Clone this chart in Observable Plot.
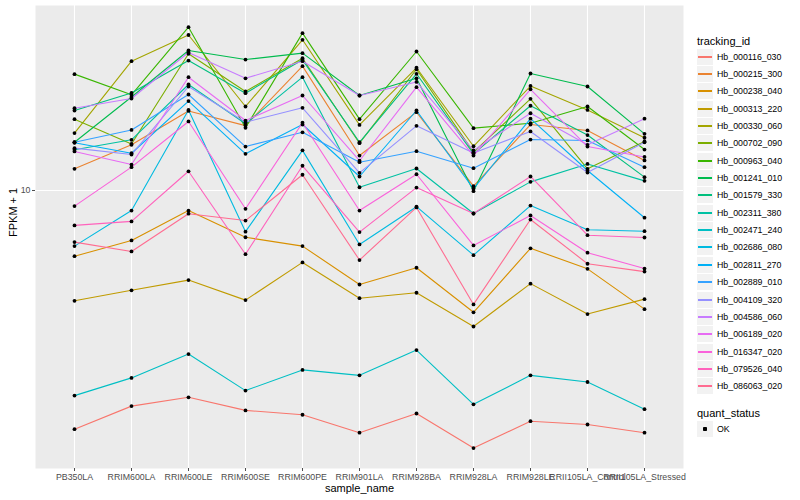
<!DOCTYPE html>
<html><head><meta charset="utf-8">
<script src="https://cdn.jsdelivr.net/npm/d3@7"></script>
<script src="https://cdn.jsdelivr.net/npm/@observablehq/plot@0.6"></script>
<style>
body{margin:0;background:#fff;font-family:"Liberation Sans",Arial,sans-serif;}
#wrap{position:relative;width:800px;height:500px;overflow:hidden;}
#chart{position:absolute;left:0;top:0;}
#legend{position:absolute;left:690px;top:0;width:110px;height:500px;}
.ltitle{position:absolute;left:7px;font-size:11px;line-height:14px;color:#000;white-space:nowrap;}
.item{position:absolute;left:7px;height:16px;width:105px;}
.key{position:absolute;left:0;top:0;width:16px;height:16px;background:#F2F2F2;}
.key .ln{position:absolute;left:1px;width:14px;top:7px;height:1.5px;}
.key .pt{position:absolute;left:6px;top:6px;width:4px;height:4px;background:#000;border-radius:0.8px;}
.lab{position:absolute;left:20px;top:0;font-size:8.8px;line-height:16px;color:#000;white-space:nowrap;}
</style></head><body>
<div id="wrap"><div id="chart"></div><div id="legend"></div></div>
<script>
const sampleNames = ["PB350LA","RRIM600LA","RRIM600LE","RRIM600SE","RRIM600PE","RRIM901LA","RRIM928BA","RRIM928LA","RRIM928LE","RRII105LA_Control","RRII105LA_Stressed"];
const trackingIds = ["Hb_000116_030","Hb_000215_300","Hb_000238_040","Hb_000313_220","Hb_000330_060","Hb_000702_090","Hb_000963_040","Hb_001241_010","Hb_001579_330","Hb_002311_380","Hb_002471_240","Hb_002686_080","Hb_002811_270","Hb_002889_010","Hb_004109_320","Hb_004586_060","Hb_006189_020","Hb_016347_020","Hb_079526_040","Hb_086063_020"];
const palette = ["#F8766D","#EA8331","#D89000","#C09B00","#A3A500","#7CAE00","#39B600","#00BB4E","#00BF7D","#00C1A3","#00BFC4","#00BAE0","#00B0F6","#35A2FF","#9590FF","#C77CFF","#E76BF3","#FA62DB","#FF62BC","#FF6C91"];
const quantStatus = ["OK"];
const yTicks = [10];
const yDomain = [2.018, 29.01];

// FPKM + 1 per sample (same order as sampleNames)
const hb000116_030 = [2.53, 2.89, 3.04, 2.82, 2.75, 2.48, 2.77, 2.27, 2.65, 2.60, 2.48];
const hb000215_300 = [11.33, 13.01, 15.81, 14.53, 20.46, 12.23, 15.70, 10.25, 14.62, 14.13, 11.89];
const hb000238_040 = [6.85, 7.50, 8.91, 7.64, 7.26, 5.82, 6.41, 4.96, 7.17, 6.37, 5.05];
const hb000313_220 = [5.30, 5.63, 5.97, 5.32, 6.61, 5.38, 5.55, 4.57, 5.85, 4.91, 5.35];
const hb000330_060 = [13.92, 21.05, 24.48, 16.22, 23.81, 14.59, 20.27, 12.90, 18.25, 15.90, 13.55];
const hb000702_090 = [15.08, 13.07, 21.97, 17.68, 21.42, 13.13, 20.10, 12.47, 16.95, 11.33, 13.26];
const hb000963_040 = [19.54, 17.35, 25.60, 14.35, 24.74, 15.08, 22.26, 14.32, 14.73, 16.22, 12.66];
const hb001241_010 = [13.20, 17.13, 22.39, 21.25, 22.05, 17.28, 19.08, 9.96, 19.61, 18.20, 13.86];
const hb001579_330 = [15.85, 17.53, 21.13, 17.51, 21.22, 13.20, 19.58, 12.35, 16.29, 13.76, 10.80];
const hb002311_380 = [12.64, 13.39, 18.41, 14.68, 19.20, 10.19, 11.35, 8.76, 10.51, 11.65, 10.57];
const hb002471_240 = [3.07, 3.40, 3.90, 3.16, 3.56, 3.45, 3.99, 2.92, 3.45, 3.32, 2.84];
const hb002686_080 = [7.26, 8.91, 15.9, 7.89, 12.6, 7.33, 9.11, 6.89, 9.17, 7.98, 7.91];
const hb002811_270 = [13.16, 12.39, 16.73, 12.35, 14.62, 10.84, 15.85, 10.10, 15.12, 11.22, 8.55];
const hb002889_010 = [13.20, 14.17, 17.38, 12.88, 13.98, 11.77, 12.54, 11.37, 13.41, 13.34, 11.44];
const hb004109_320 = [12.76, 12.30, 18.20, 14.82, 16.10, 11.07, 14.51, 12.41, 14.05, 11.09, 13.20];
const hb004586_060 = [16.06, 16.98, 22.13, 19.08, 21.05, 17.28, 18.68, 12.59, 15.60, 13.01, 15.12];
const hb006189_020 = [12.52, 11.61, 19.20, 14.96, 17.28, 11.87, 18.13, 12.23, 17.90, 12.88, 12.13];
const hb016347_020 = [9.14, 11.44, 14.88, 9.00, 14.77, 8.91, 10.98, 7.29, 8.66, 6.99, 6.38];
const hb079526_040 = [8.18, 8.37, 11.17, 6.93, 11.53, 7.87, 10.17, 8.76, 10.84, 7.73, 7.63];
const hb086063_020 = [7.43, 7.04, 8.75, 8.41, 10.95, 6.70, 9.07, 5.19, 8.46, 6.56, 6.27];

const seriesValues = [hb000116_030, hb000215_300, hb000238_040, hb000313_220, hb000330_060, hb000702_090, hb000963_040, hb001241_010, hb001579_330, hb002311_380, hb002471_240, hb002686_080, hb002811_270, hb002889_010, hb004109_320, hb004586_060, hb006189_020, hb016347_020, hb079526_040, hb086063_020];

const rows = [];
trackingIds.forEach((id, i) => {
  sampleNames.forEach((s, j) => {
    rows.push({sample: s, id: id, value: seriesValues[i][j], status: quantStatus[0]});
  });
});

const chart = Plot.plot({
  width: 690, height: 500,
  marginLeft: 35, marginRight: 7, marginTop: 5, marginBottom: 32,
  style: {fontFamily: '"Liberation Sans", Arial, sans-serif', fontSize: "8.8px", color: "#4D4D4D", background: "transparent"},
  x: {type: "point", domain: sampleNames, padding: 0.6, label: null},
  y: {type: "log", domain: yDomain, label: null},
  color: {domain: trackingIds, range: palette},
  marks: [
    Plot.frame({fill: "#EBEBEB", stroke: "none"}),
    Plot.gridX({stroke: "white", strokeOpacity: 1, strokeWidth: 1.1}),
    Plot.gridY(yTicks, {stroke: "white", strokeOpacity: 1, strokeWidth: 1.1}),
    Plot.axisX({tickSize: 3, tickPadding: 2.5, label: null}),
    Plot.axisY(yTicks, {tickSize: 3, tickPadding: 2, label: null, tickFormat: d => String(d)}),
    Plot.line(rows, {x: "sample", y: "value", z: "id", stroke: "id", strokeWidth: 1.1}),
    Plot.dot(rows, {x: "sample", y: "value", r: 1.9, fill: "black", stroke: "none"}),
    Plot.text(["sample_name"], {text: d => d, frameAnchor: "bottom", dy: 23, fontSize: 11, fill: "black"}),
    Plot.text(["FPKM + 1"], {text: d => d, frameAnchor: "left", dx: -22, rotate: -90, fontSize: 11, fill: "black"})
  ]
});
document.getElementById("chart").appendChild(chart);

// legend (ggplot style)
const legend = document.getElementById("legend");
function addTitle(txt, top) {
  const t = document.createElement("div");
  t.className = "ltitle"; t.style.top = top + "px"; t.textContent = txt;
  legend.appendChild(t);
}
addTitle("tracking_id", 33.5);
trackingIds.forEach((id, i) => {
  const it = document.createElement("div");
  it.className = "item";
  it.style.top = Math.round(48.6 + i * 17.35) + "px";
  const k = document.createElement("div"); k.className = "key";
  const ln = document.createElement("div"); ln.className = "ln"; ln.style.background = palette[i];
  k.appendChild(ln);
  const lb = document.createElement("div"); lb.className = "lab"; lb.textContent = id;
  it.appendChild(k); it.appendChild(lb);
  legend.appendChild(it);
});
addTitle("quant_status", 405.5);
quantStatus.forEach((q, i) => {
  const it = document.createElement("div");
  it.className = "item";
  it.style.top = Math.round(421 + i * 17.35) + "px";
  const k = document.createElement("div"); k.className = "key";
  const pt = document.createElement("div"); pt.className = "pt";
  k.appendChild(pt);
  const lb = document.createElement("div"); lb.className = "lab"; lb.textContent = q;
  it.appendChild(k); it.appendChild(lb);
  legend.appendChild(it);
});
</script></body></html>
